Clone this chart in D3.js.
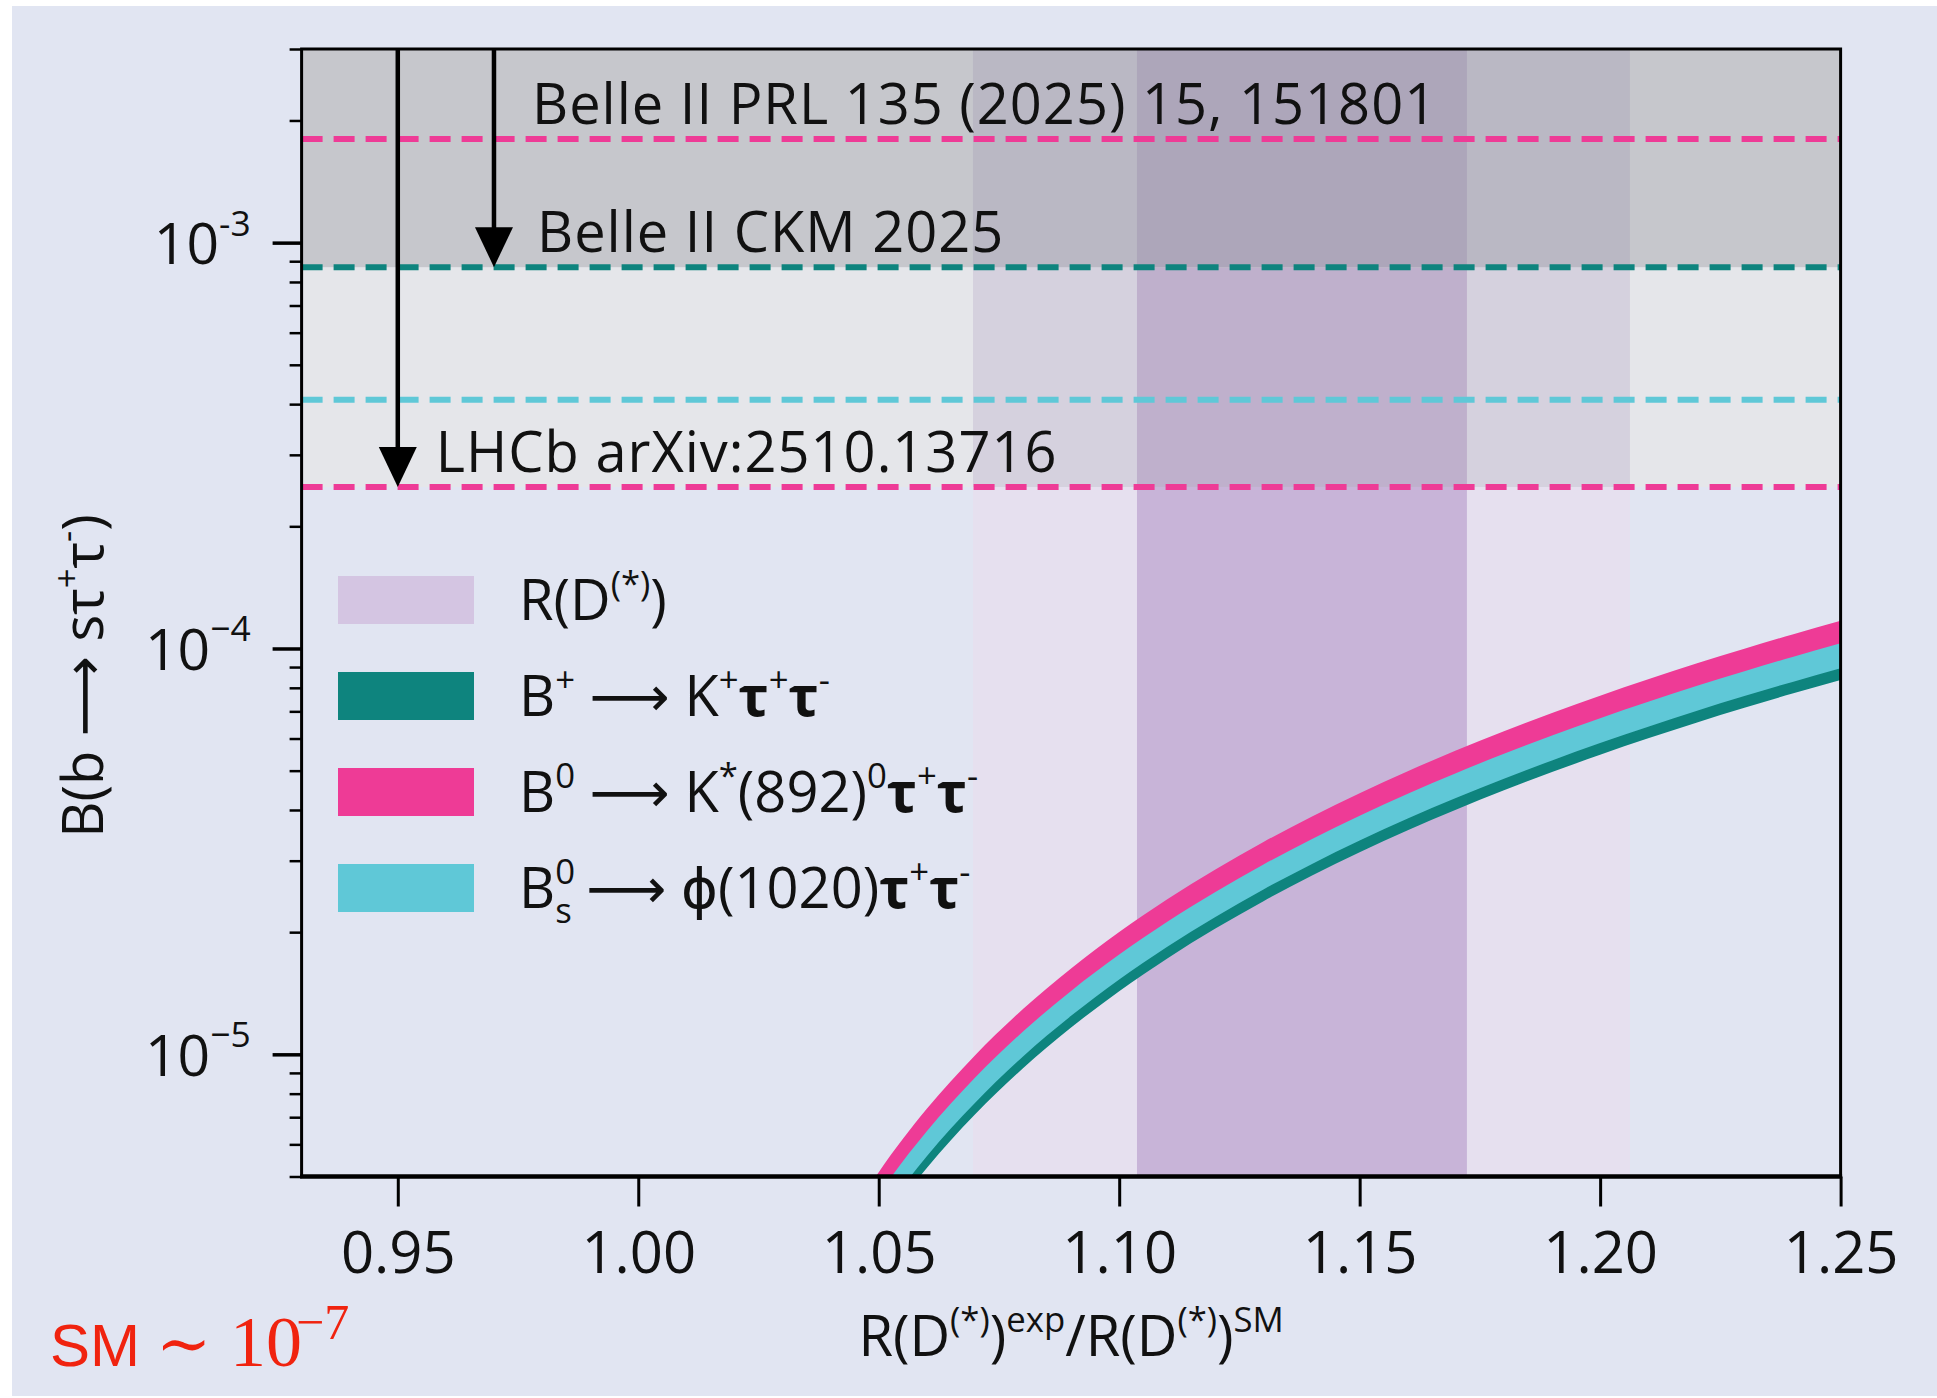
<!DOCTYPE html>
<html><head><meta charset="utf-8">
<script src="https://cdn.jsdelivr.net/npm/d3@7"></script>
<style>
html,body{margin:0;padding:0;background:#fff;}
svg{display:block;}
text{white-space:pre;}
</style>
</head><body>
<svg id="chart" width="1937" height="1398"></svg>
<script>
// ---------------- DATA ----------------
const xTicks = [0.95, 1.00, 1.05, 1.10, 1.15, 1.20, 1.25];
const yMajorTicks = [1e-3, 1e-4, 1e-5];
const yMajorExp = ["-3", "\u22124", "\u22125"];
const xDomain = [0.93, 1.25];
const yDomain = [5e-6, 3e-3];

// R(D*) bands (ratio to SM): 1 sigma and 2 sigma
const rdInner = [1.1037, 1.1723];
const rdOuter = [1.0696, 1.2062];

// experimental upper limits
const limitNames  = ["Belle II PRL 135 (2025) 15, 151801", "Belle II CKM 2025", "LHCb (phi)", "LHCb arXiv:2510.13716"];
const limitValues = [1.8e-3, 8.7e-4, 4.1e-4, 2.5e-4];
const limitSeries = ["kstar", "k", "phi", "kstar"];

// arrows: x position (ratio) and tip value
const arrowX   = [0.97, 0.95];
const arrowTip = [8.7e-4, 2.5e-4];

// predicted branching-fraction bands vs R(D*)exp/R(D*)SM
const curveX = [1.04,1.05,1.06,1.07,1.08,1.09,1.10,1.11,1.12,1.13,1.14,1.15,1.16,1.17,1.18,1.19,1.20,1.21,1.22,1.23,1.24,1.25];
const kstarHi = [3.29e-6,5.12e-6,7.34e-6,9.94e-6,1.293e-5,1.628e-5,2.001e-5,2.410e-5,2.855e-5,3.336e-5,3.851e-5,4.401e-5,4.985e-5,5.602e-5,6.253e-5,6.936e-5,7.652e-5,8.40e-5,9.18e-5,9.99e-5,1.083e-4,1.170e-4];
const kstarLo = [2.90e-6,4.51e-6,6.46e-6,8.75e-6,1.138e-5,1.433e-5,1.761e-5,2.121e-5,2.512e-5,2.936e-5,3.389e-5,3.873e-5,4.387e-5,4.930e-5,5.503e-5,6.104e-5,6.734e-5,7.392e-5,8.078e-5,8.791e-5,9.530e-5,1.030e-4];
const phiHi   = [2.96e-6,4.61e-6,6.61e-6,8.95e-6,1.164e-5,1.465e-5,1.801e-5,2.169e-5,2.570e-5,3.002e-5,3.466e-5,3.961e-5,4.487e-5,5.042e-5,5.628e-5,6.242e-5,6.887e-5,7.56e-5,8.26e-5,8.99e-5,9.75e-5,1.053e-4];
const phiLo   = [2.51e-6,3.91e-6,5.61e-6,7.59e-6,9.88e-6,1.244e-5,1.529e-5,1.841e-5,2.181e-5,2.549e-5,2.942e-5,3.362e-5,3.809e-5,4.280e-5,4.777e-5,5.299e-5,5.846e-5,6.418e-5,7.014e-5,7.632e-5,8.274e-5,8.939e-5];
const kHi     = [2.57e-6,3.99e-6,5.73e-6,7.75e-6,1.009e-5,1.270e-5,1.561e-5,1.880e-5,2.227e-5,2.602e-5,3.004e-5,3.433e-5,3.888e-5,4.370e-5,4.877e-5,5.410e-5,5.969e-5,6.552e-5,7.16e-5,7.79e-5,8.45e-5,9.13e-5];
const kLo     = [2.35e-6,3.66e-6,5.25e-6,7.11e-6,9.24e-6,1.164e-5,1.431e-5,1.723e-5,2.041e-5,2.385e-5,2.753e-5,3.147e-5,3.564e-5,4.005e-5,4.471e-5,4.959e-5,5.471e-5,6.006e-5,6.564e-5,7.143e-5,7.743e-5,8.366e-5];

// ---------------- STYLE ----------------
const COL = {
  bg: "#e1e5f2", k: "#0e847e", kstar: "#ee3b96", phi: "#5fc8d7", rdLegend: "#d4c5e2"
};
const zoneStyle = [ // from bottom to top
  {base: null,      outer: "#e6e0ef", inner: "#c8b4d8"},
  {base: "#e5e6ea", outer: "#d5d1de", inner: "#bfb0cc"},
  {base: "#c6c7cc", outer: "#bab8c4", inner: "#ada6ba"}
];
const FONT = "'Open Sans', 'DejaVu Sans', sans-serif";
const ARROW = "\u27f6";

// ---------------- SETUP ----------------
const svg = d3.select("#chart");
const W = 1937, H = 1398;
const P = {l: 301.6, r: 1840.6, t: 49, b: 1176.5};
const x = d3.scaleLinear().domain(xDomain).range([P.l, P.r]);
const y = d3.scaleLog().domain(yDomain).range([P.b, P.t]);

svg.append("rect").attr("x", 12).attr("y", 6).attr("width", W - 12).attr("height", H - 8).attr("fill", COL.bg);

svg.append("defs").append("clipPath").attr("id", "clip")
  .append("rect").attr("x", P.l).attr("y", P.t).attr("width", P.r - P.l).attr("height", P.b - P.t);

const plot = svg.append("g").attr("clip-path", "url(#clip)");

// zones bounded by the limits: below LHCb K*, between LHCb K* and Belle II CKM, above
const zoneBounds = [[yDomain[0], limitValues[3]], [limitValues[3], limitValues[1]], [limitValues[1], yDomain[1]]];
zoneBounds.forEach((zb, i) => {
  const st = zoneStyle[i];
  const y0 = y(zb[1]), y1 = y(zb[0]);
  if (st.base) plot.append("rect").attr("x", P.l).attr("y", y0).attr("width", P.r - P.l).attr("height", y1 - y0).attr("fill", st.base);
  plot.append("rect").attr("x", x(rdOuter[0])).attr("y", y0).attr("width", x(rdOuter[1]) - x(rdOuter[0])).attr("height", y1 - y0).attr("fill", st.outer);
  plot.append("rect").attr("x", x(rdInner[0])).attr("y", y0).attr("width", x(rdInner[1]) - x(rdInner[0])).attr("height", y1 - y0).attr("fill", st.inner);
});

// bands
function band(lo, hi, color) {
  const data = curveX.map((v, i) => ({x: v, lo: lo[i], hi: hi[i]}));
  const area = d3.area().x(d => x(d.x)).y0(d => y(d.lo)).y1(d => y(d.hi)).curve(d3.curveMonotoneX);
  plot.append("path").datum(data).attr("d", area).attr("fill", color);
}
band(kLo, kHi, COL.k);
band(phiLo, phiHi, COL.phi);
band(kstarLo, kstarHi, COL.kstar);

// dashed limit lines
limitValues.forEach((v, i) => {
  plot.append("line").attr("x1", P.l).attr("x2", P.r).attr("y1", y(v)).attr("y2", y(v))
    .attr("stroke", COL[limitSeries[i]]).attr("stroke-width", 6).attr("stroke-dasharray", "21,11");
});

// arrows
arrowX.forEach((ax, i) => {
  const px = x(ax), tip = y(arrowTip[i]), hh = 40, hw = 19;
  svg.append("line").attr("x1", px).attr("x2", px).attr("y1", P.t).attr("y2", tip - hh + 2)
    .attr("stroke", "#000").attr("stroke-width", 4.5);
  svg.append("path").attr("d", `M${px - hw},${tip - hh}L${px + hw},${tip - hh}L${px},${tip}Z`).attr("fill", "#000");
});

// limit labels
const labelDefs = [
  {i: 0, dx: x(arrowX[0]) + 38},
  {i: 1, dx: x(arrowX[0]) + 43},
  {i: 3, dx: x(arrowX[1]) + 38}
];
labelDefs.forEach(l => {
  svg.append("text").attr("x", l.dx).attr("y", y(limitValues[l.i]) - 15)
    .attr("font-family", FONT).attr("font-size", 56).attr("letter-spacing", 1.0).attr("fill", "#111").text(limitNames[l.i]);
});

// rich text helper
function rich(sel, parts, size) {
  let shift = 0, prev = null;
  parts.forEach(p => {
    const ts = sel.append("tspan").text(p.t);
    let target = 0, fs = size;
    if (p.sup) { target = -size * (p.raise || 0.42); fs = size * (p.scale || 0.62); }
    if (p.sub) { target = size * 0.26; fs = size * 0.62; }
    ts.attr("font-size", fs).attr("dy", target - shift);
    if (p.b) ts.attr("font-weight", "bold");
    if (p.fam) ts.attr("font-family", p.fam);
    if (p.stack && prev) ts.attr("dx", -prev.node().getComputedTextLength());
    shift = target; prev = ts;
  });
}

// legend
const legendItems = [
  {color: COL.rdLegend, parts: [{t: "R(D"}, {t: "(*)", sup: 1}, {t: ")"}]},
  {color: COL.k, parts: [{t: "B"}, {t: "+", sup: 1}, {t: " " + ARROW + " K"}, {t: "+", sup: 1}, {t: "\u03c4", b: 1}, {t: "+", sup: 1}, {t: "\u03c4", b: 1}, {t: "-", sup: 1}]},
  {color: COL.kstar, parts: [{t: "B"}, {t: "0", sup: 1}, {t: " " + ARROW + " K"}, {t: "*", sup: 1}, {t: "(892)"}, {t: "0", sup: 1}, {t: "\u03c4", b: 1}, {t: "+", sup: 1}, {t: "\u03c4", b: 1}, {t: "-", sup: 1}]},
  {color: COL.phi, parts: [{t: "B"}, {t: "0", sup: 1}, {t: "s", sub: 1, stack: 1}, {t: " " + ARROW + " \u03d5(1020)"}, {t: "\u03c4", b: 1}, {t: "+", sup: 1}, {t: "\u03c4", b: 1}, {t: "-", sup: 1}]}
];
const legY0 = 600, legStep = 96;
legendItems.forEach((it, i) => {
  const cy = legY0 + i * legStep;
  svg.append("rect").attr("x", 338).attr("y", cy - 24).attr("width", 136).attr("height", 48).attr("fill", it.color);
  const t = svg.append("text").attr("x", 519).attr("y", cy + 20).attr("font-family", FONT).attr("fill", "#111");
  rich(t, it.parts, 56);
});

// axes
const gx = svg.append("g").attr("transform", `translate(0,${P.b})`)
  .call(d3.axisBottom(x).tickValues(xTicks).tickSize(30).tickFormat(d3.format(".2f")));
gx.select(".domain").remove();
gx.selectAll(".tick line").attr("stroke", "#000").attr("stroke-width", 3);
gx.selectAll(".tick text").attr("y", 96).attr("dy", 0).attr("font-family", FONT).attr("font-size", 58).attr("fill", "#111");

const minorTicks = y.ticks().filter(v => yMajorTicks.every(m => Math.abs(v - m) / m > 1e-6));
const gyMinor = svg.append("g").attr("transform", `translate(${P.l},0)`)
  .call(d3.axisLeft(y).tickValues(minorTicks).tickSize(12).tickFormat(""));
gyMinor.select(".domain").remove();
gyMinor.selectAll(".tick line").attr("stroke", "#000").attr("stroke-width", 2.5);

const gy = svg.append("g").attr("transform", `translate(${P.l},0)`)
  .call(d3.axisLeft(y).tickValues(yMajorTicks).tickSize(29).tickFormat(""));
gy.select(".domain").remove();
gy.selectAll(".tick line").attr("stroke", "#000").attr("stroke-width", 3.5);
gy.selectAll(".tick text").each(function(d, i) {
  const t = d3.select(this).attr("x", -51).attr("y", 21).attr("dy", null)
    .attr("font-family", FONT).attr("fill", "#111").attr("text-anchor", "end");
  rich(t, [{t: "10"}, {t: yMajorExp[yMajorTicks.indexOf(d)], sup: 1, raise: 0.5, scale: 0.62}], 57);
});

// frame
svg.append("rect").attr("x", P.l).attr("y", P.t).attr("width", P.r - P.l).attr("height", P.b - P.t)
  .attr("fill", "none").attr("stroke", "#000").attr("stroke-width", 3);
svg.append("line").attr("x1", P.l - 1.5).attr("x2", P.r + 1.5).attr("y1", P.b).attr("y2", P.b)
  .attr("stroke", "#000").attr("stroke-width", 4.5);

// axis titles
const xt = svg.append("text").attr("x", (P.l + P.r) / 2).attr("y", 1356).attr("text-anchor", "middle")
  .attr("font-family", FONT).attr("fill", "#111");
rich(xt, [{t: "R(D"}, {t: "(*)", sup: 1}, {t: ")"}, {t: "exp", sup: 1}, {t: "/R(D"}, {t: "(*)", sup: 1}, {t: ")"}, {t: "SM", sup: 1}], 56);

const yt = svg.append("text").attr("transform", "translate(103,676) rotate(-90)").attr("text-anchor", "middle")
  .attr("font-family", FONT).attr("fill", "#111");
rich(yt, [{t: "B(b " + ARROW + " s\u03c4"}, {t: "+", sup: 1}, {t: "\u03c4"}, {t: "-", sup: 1}, {t: ")"}], 56);

// SM annotation
const sm = svg.append("text").attr("y", 1366).attr("fill", "#f0230f");
sm.append("tspan").attr("x", 50).attr("font-family", "'Liberation Sans', Arial, sans-serif").attr("font-size", 60).text("SM");
sm.append("tspan").attr("x", 156).attr("font-family", "'Liberation Serif', 'DejaVu Serif', serif").attr("font-size", 66).text("\u223c");
sm.append("tspan").attr("x", 230).attr("font-family", "'Liberation Serif', serif").attr("font-size", 72).text("10");
sm.append("tspan").attr("x", 296).attr("dy", -27).attr("font-family", "'Liberation Serif', serif").attr("font-size", 50).text("\u22127");
</script>
</body></html>
